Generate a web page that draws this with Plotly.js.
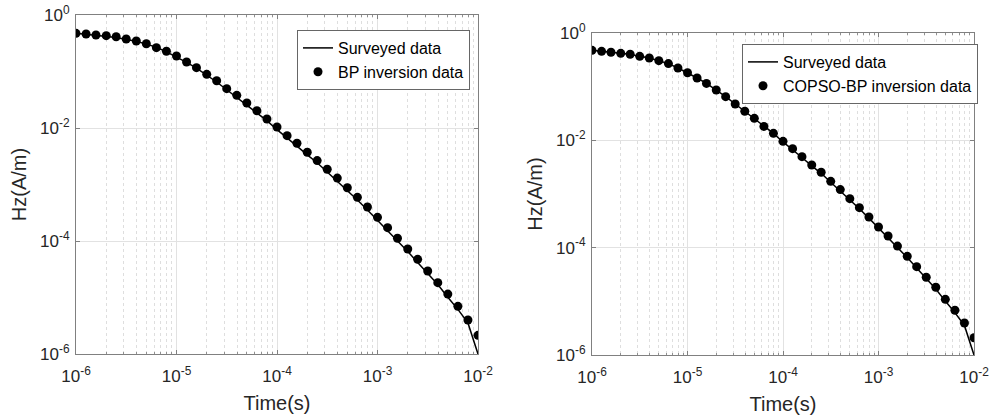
<!DOCTYPE html>
<html>
<head>
<meta charset="utf-8">
<script src="https://cdn.plot.ly/plotly-3.0.1.min.js"></script>
<style>html,body{margin:0;padding:0;background:#fff;}#chart{width:993px;height:419px;}</style>
</head>
<body>
<div id="chart"></div>
<script>
// Time (s)
const time = [1.00e-6,1.26e-6,1.58e-6,2.00e-6,2.51e-6,3.16e-6,3.98e-6,5.01e-6,6.31e-6,7.94e-6,
  1.00e-5,1.26e-5,1.58e-5,2.00e-5,2.51e-5,3.16e-5,3.98e-5,5.01e-5,6.31e-5,7.94e-5,
  1.00e-4,1.26e-4,1.58e-4,2.00e-4,2.51e-4,3.16e-4,3.98e-4,5.01e-4,6.31e-4,7.94e-4,
  1.00e-3,1.26e-3,1.58e-3,2.00e-3,2.51e-3,3.16e-3,3.98e-3,5.01e-3,6.31e-3,7.94e-3,1.00e-2];

// Surveyed Hz (A/m)
const surveyed = [0.475,0.455,0.437,0.418,0.401,0.367,0.342,0.305,0.269,0.223,
  0.182,0.145,0.115,0.0867,0.0652,0.0475,0.0348,0.0257,0.0182,0.0135,
  0.00933,0.00676,0.00479,0.00335,0.00243,0.00166,0.00115,7.85e-4,5.31e-4,3.55e-4,
  2.32e-4,1.57e-4,1.02e-4,6.53e-5,4.17e-5,2.63e-5,1.70e-5,1.01e-5,6.17e-6,3.55e-6,1.0e-6];

// BP inversion Hz (A/m)
const bpInversion = [0.474,0.461,0.443,0.431,0.413,0.376,0.347,0.310,0.264,0.228,
  0.188,0.147,0.117,0.0891,0.0687,0.0497,0.0379,0.0277,0.0202,0.0144,
  0.0104,0.00731,0.00536,0.00372,0.00265,0.00186,0.00130,8.77e-4,5.93e-4,4.00e-4,
  2.62e-4,1.72e-4,1.12e-4,7.21e-5,4.74e-5,2.94e-5,1.83e-5,1.15e-5,6.98e-6,4.00e-6,2.14e-6];

// COPSO-BP inversion Hz (A/m)
const copsoInversion = [0.475,0.455,0.437,0.418,0.401,0.367,0.342,0.305,0.269,0.223,
  0.182,0.145,0.115,0.0867,0.0652,0.0475,0.0348,0.0257,0.0182,0.0135,
  0.00959,0.00700,0.00497,0.00347,0.00254,0.00172,0.00121,8.18e-4,5.56e-4,3.73e-4,
  2.43e-4,1.65e-4,1.07e-4,6.90e-5,4.43e-5,2.81e-5,1.83e-5,1.09e-5,6.81e-6,3.95e-6,2.10e-6];

const xTickVals = [1e-6,1e-5,1e-4,1e-3,1e-2];
const xTickText = ['10<sup>-6</sup>','10<sup>-5</sup>','10<sup>-4</sup>','10<sup>-3</sup>','10<sup>-2</sup>'];
const xMinorVals = [2e-6,3e-6,4e-6,5e-6,6e-6,7e-6,8e-6,9e-6,
  2e-5,3e-5,4e-5,5e-5,6e-5,7e-5,8e-5,9e-5,
  2e-4,3e-4,4e-4,5e-4,6e-4,7e-4,8e-4,9e-4,
  2e-3,3e-3,4e-3,5e-3,6e-3,7e-3,8e-3,9e-3];
const yTickVals = [1e-6,1e-4,1e-2,1];
const yTickText = ['10<sup>-6</sup>','10<sup>-4</sup>','10<sup>-2</sup>','10<sup>0</sup>'];

const FONT = 'Liberation Sans, Arial, sans-serif';
const TXT = '#262626';

function xAxis(domain, anchor) {
  return {
    type: 'log', domain: domain, anchor: anchor, range: [-6, -2],
    tickmode: 'array', tickvals: xTickVals, ticktext: xTickText,
    tickfont: {family: FONT, size: 17, color: TXT},
    ticklabelstandoff: 7,
    showline: true, linecolor: '#808080', linewidth: 1, mirror: 'ticks',
    ticks: 'inside', ticklen: 4, tickcolor: '#808080',
    showgrid: true, gridcolor: '#e2e2e2', gridwidth: 1,
    minor: {tickmode: 'array', tickvals: xMinorVals, showgrid: true, gridcolor: '#dedede',
            griddash: 'dot', gridwidth: 1, ticks: 'inside', ticklen: 2, tickcolor: '#909090'},
    zeroline: false,
    title: {text: 'Time(s)', font: {family: FONT, size: 20, color: TXT}, standoff: 10}
  };
}
function yAxis(domain, anchor) {
  return {
    type: 'log', domain: domain, anchor: anchor, range: [-6, 0],
    tickmode: 'array', tickvals: yTickVals, ticktext: yTickText,
    tickfont: {family: FONT, size: 17, color: TXT},
    ticklabelstandoff: 2,
    showline: true, linecolor: '#808080', linewidth: 1, mirror: 'ticks',
    ticks: 'inside', ticklen: 4, tickcolor: '#808080',
    showgrid: true, gridcolor: '#e2e2e2', gridwidth: 1,
    zeroline: false,
    title: {text: 'Hz(A/m)', font: {family: FONT, size: 20, color: TXT}, standoff: 8}
  };
}

const traces = [
  {x: time, y: surveyed, type: 'scatter', mode: 'lines', name: 'Surveyed data',
   line: {color: '#000', width: 1.5}, xaxis: 'x', yaxis: 'y', legend: 'legend'},
  {x: time, y: bpInversion, type: 'scatter', mode: 'markers', name: 'BP inversion data',
   marker: {color: '#000', size: 9}, xaxis: 'x', yaxis: 'y', legend: 'legend'},
  {x: time, y: surveyed, type: 'scatter', mode: 'lines', name: 'Surveyed data',
   line: {color: '#000', width: 1.5}, xaxis: 'x2', yaxis: 'y2', legend: 'legend2'},
  {x: time, y: copsoInversion, type: 'scatter', mode: 'markers', name: 'COPSO-BP inversion data',
   marker: {color: '#000', size: 9}, xaxis: 'x2', yaxis: 'y2', legend: 'legend2'}
];

const legendBase = {
  font: {family: FONT, size: 16, color: '#000'},
  bgcolor: '#fff', bordercolor: '#666', borderwidth: 1,
  xanchor: 'left', yanchor: 'top', tracegroupgap: 0, itemwidth: 30
};

const layout = {
  width: 993, height: 419,
  margin: {l: 0, r: 0, t: 0, b: 0},
  paper_bgcolor: '#fff', plot_bgcolor: '#fff',
  showlegend: true,
  xaxis: xAxis([76/993, 478/993], 'y'),
  yaxis: yAxis([1 - 354/419, 1 - 15/419], 'x'),
  xaxis2: xAxis([592/993, 974/993], 'y2'),
  yaxis2: yAxis([1 - 355/419, 1 - 33/419], 'x2'),
  legend: Object.assign({}, legendBase, {x: 297/993, y: 1 - 30/419}),
  legend2: Object.assign({}, legendBase, {x: 742/993, y: 1 - 44/419})
};

Plotly.newPlot('chart', traces, layout, {displayModeBar: false, staticPlot: true});
</script>
</body>
</html>
